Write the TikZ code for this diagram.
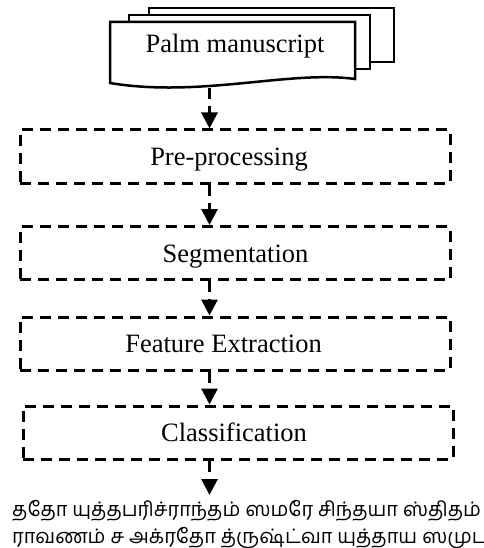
\documentclass[tikz,border=0pt]{standalone}
\usepackage{fontspec}
\setmainfont{Liberation Serif}
\newfontfamily\tamilfont[Script=Tamil]{Hind Madurai}
\usetikzlibrary{arrows.meta}

\tikzset{
  docline/.style={line width=2.5, line join=miter, fill=white},
  stagebox/.style={draw, line width=3, dash pattern=on 11 off 7,
                   minimum width=430, minimum height=53, inner sep=0},
  caption/.style={anchor=base, inner sep=0, font=\fontsize{26.5}{30}\selectfont},
  flow/.style={line width=3, dash pattern=on 11 off 7,
               -{Triangle[width=16pt,length=16pt]}},
  verse/.style={anchor=base west, inner sep=0,
                font=\tamilfont\fontsize{20}{26}\selectfont}
}

\begin{document}
\begin{tikzpicture}[x=1pt, y=-1pt]
\useasboundingbox (0,0) rectangle (483,548);
\clip (0,0) rectangle (483,548);

% stacked manuscript pages
\draw[docline] (149,8) rectangle (394,62);
\draw[docline] (129,15) rectangle (370,69);
\draw[docline] (110,22) -- (355,22) -- (355,79)
   .. controls (290,70) and (200,98) .. (110,83) -- cycle;
\node[caption] (palm) at (235,53) {Palm manuscript};

% x position of the vertical flow
\coordinate (ax) at (209.5,0);
\coordinate (docbot) at (209.5,88);

% processing stages
\node[stagebox] (pre)  at (235,156.5) {};
\node[stagebox] (seg)  at (235,253)   {};
\node[stagebox] (feat) at (235,343.5) {};
\node[stagebox] (cls)  at (238,432.5) {};

\node[caption] (pretext)  at (229,165.5)   {Pre-processing};
\node[caption] (segtext)  at (235.5,262)   {Segmentation};
\node[caption] (feattext) at (223.5,352.5) {Feature Extraction};
\node[caption] (clstext)  at (234,441.5)   {Classification};

% recognised text
\node[verse] (line1) at (12,516) {ததோ யுத்தபரிச்ராந்தம் ஸமரே சிந்தயா ஸ்திதம்};
\node[verse] (line2) at (12,543) {ராவணம் ச அக்ரதோ த்ருஷ்ட்வா யுத்தாய ஸமுபஸ்திதம்};
\coordinate (textTop) at (209.5,495);

% connectors
\draw[flow] (docbot) -- (pre.north -| ax);
\draw[flow] (pre.south -| ax) -- (seg.north -| ax);
\draw[flow] (seg.south -| ax) -- (feat.north -| ax);
\draw[flow] (feat.south -| ax) -- (cls.north -| ax);
\draw[flow] (cls.south -| ax) -- (textTop);
\end{tikzpicture}
\end{document}
